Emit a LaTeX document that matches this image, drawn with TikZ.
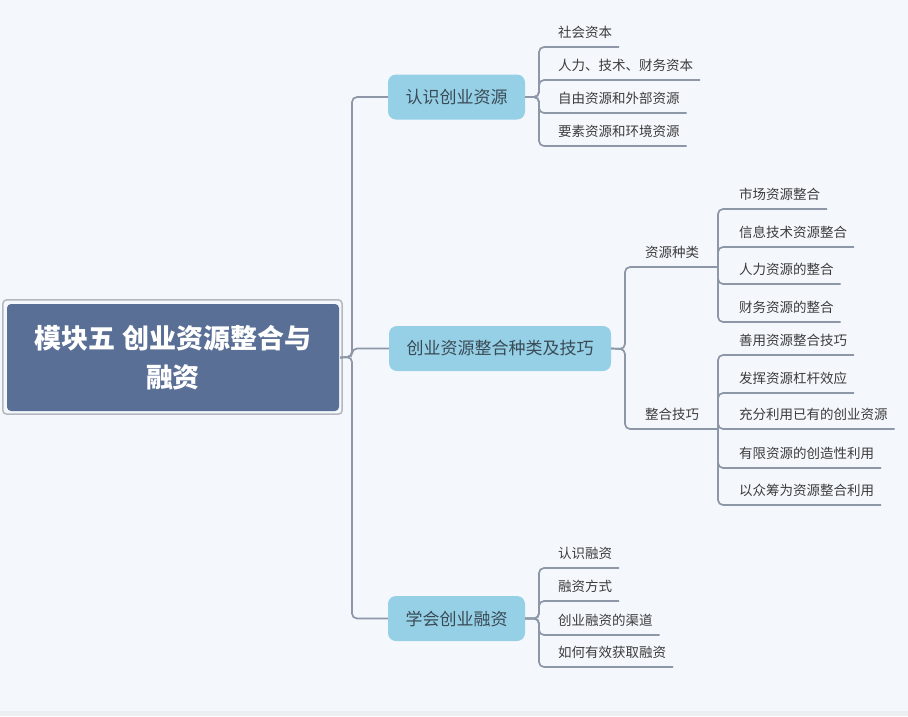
\documentclass[tikz,border=0pt]{standalone}
\usepackage{fontspec}
\setmainfont{Noto Sans CJK SC}
\definecolor{bgc}{HTML}{F4F8FC}
\definecolor{stripc}{HTML}{ECEEF0}
\definecolor{linec}{HTML}{8D97A8}
\definecolor{rootfill}{HTML}{5A6F95}
\definecolor{rootframe}{HTML}{B4B8BE}
\definecolor{nodefill}{HTML}{95D0E6}
\definecolor{branchtext}{HTML}{3A4A55}
\definecolor{leaftext}{HTML}{3C3C3C}
\begin{document}
\begin{tikzpicture}[x=1pt,y=-1pt,
  conn/.style={draw=linec, line width=1.7pt, rounded corners=5pt},
  leaf/.style={anchor=south west, inner sep=0pt, outer sep=0pt, text height=10pt, text depth=9.4pt,
    font=\fontsize{13.5}{16}\selectfont, text=leaftext},
  branch/.style={fill=nodefill, rounded corners=8pt, minimum height=45pt, inner xsep=17.5pt,
    font=\fontsize{17}{20}\selectfont, text=branchtext},
  rootbox/.style={fill=rootfill, rounded corners=4pt, minimum width=332pt, minimum height=107pt,
    align=center, text=white, font=\fontsize{27}{39}\selectfont\bfseries},
  frame/.style={draw=rootframe, line width=1.5pt, rounded corners=4pt}
]
\useasboundingbox (0,0) rectangle (908,716);
\fill[bgc] (0,0) rectangle (908,716);
\fill[stripc] (0,711) rectangle (908,716);

% root
\node[rootbox] (root) at (173,357.5) {模块五 创业资源整合与\\融资};
\draw[frame] ([shift={(-4,-4)}]root.north west) rectangle ([shift={(3,3)}]root.south east);

% branches
\node[branch] (n1) at (456.5,97) {认识创业资源};
\node[branch] (n2) at (500,348.5) {创业资源整合种类及技巧};
\node[branch] (n3) at (456.5,618.5) {学会创业融资};

\coordinate (t) at (352,357);
\draw[conn] ([xshift=1pt]root.east) -- (t) -- (t |- n1.west) -- (n1.west);
\draw[conn] ([xshift=1pt]root.east) -- (t) -- (t |- n2.west) -- (n2.west);
\draw[conn] ([xshift=1pt]root.east) -- (t) -- (t |- n3.west) -- (n3.west);

% group 1
\coordinate (j1) at (539,97);
\node[leaf] (l11) at (558,47) {社会资本};
\node[leaf] (l12) at (558,80) {人力、技术、财务资本};
\node[leaf] (l13) at (558,113) {自由资源和外部资源};
\node[leaf] (l14) at (558,146) {要素资源和环境资源};
\foreach \l in {l11,l12,l13,l14}
  \draw[conn] (n1.east) -- (j1) -- (j1 |- \l.south) -- ([xshift=7pt]\l.south east);

% group 2
\coordinate (j2) at (625,349);
\node[leaf] (m1) at (645,267) {资源种类};
\node[leaf] (m2) at (645,429) {整合技巧};
\coordinate (m1end) at (718,267);
\coordinate (m2end) at (718,429);
\draw[conn] (n2.east) -- (j2) -- (j2 |- m1.south) -- (m1end);
\draw[conn] (n2.east) -- (j2) -- (j2 |- m2.south) -- (m2end);

\node[leaf] (a1) at (739,209) {市场资源整合};
\node[leaf] (a2) at (739,247) {信息技术资源整合};
\node[leaf] (a3) at (739,284) {人力资源的整合};
\node[leaf] (a4) at (739,322) {财务资源的整合};
\foreach \l in {a1,a2,a3,a4}
  \draw[conn] (m1end) -- (m1end |- \l.south) -- ([xshift=7pt]\l.south east);

\node[leaf] (b1) at (739,355) {善用资源整合技巧};
\node[leaf] (b2) at (739,393) {发挥资源杠杆效应};
\node[leaf] (b3) at (739,429) {充分利用已有的创业资源};
\node[leaf] (b4) at (739,468) {有限资源的创造性利用};
\node[leaf] (b5) at (739,505) {以众筹为资源整合利用};
\foreach \l in {b1,b2,b3,b4,b5}
  \draw[conn] (m2end) -- (m2end |- \l.south) -- ([xshift=7pt]\l.south east);

% group 3
\coordinate (j3) at (539,618.5);
\node[leaf] (c1) at (558,568) {认识融资};
\node[leaf] (c2) at (558,601) {融资方式};
\node[leaf] (c3) at (558,635) {创业融资的渠道};
\node[leaf] (c4) at (558,667) {如何有效获取融资};
\foreach \l in {c1,c2,c3,c4}
  \draw[conn] (n3.east) -- (j3) -- (j3 |- \l.south) -- ([xshift=7pt]\l.south east);
\end{tikzpicture}
\end{document}
